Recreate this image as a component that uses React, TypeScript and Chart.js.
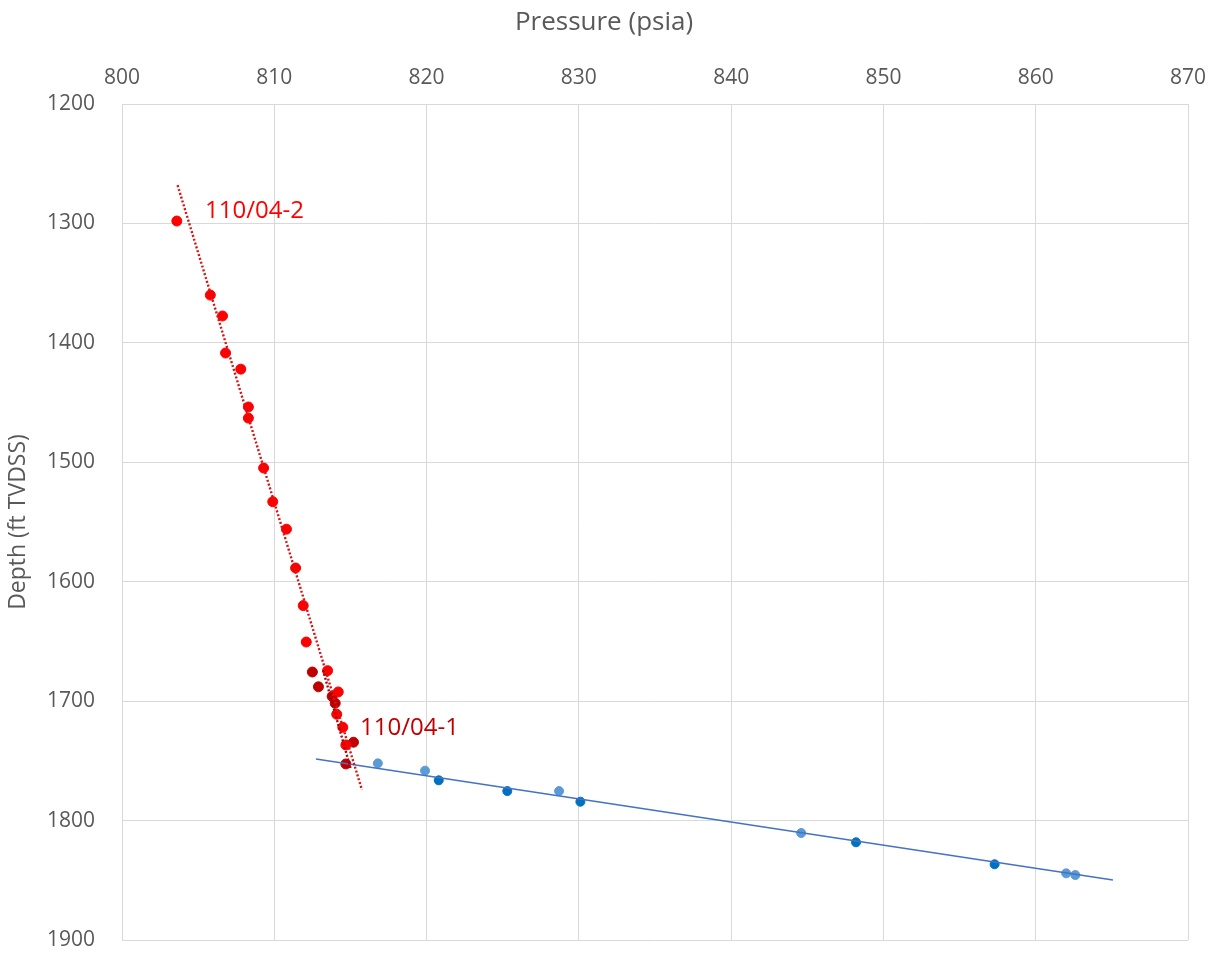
import React, { useEffect, useRef } from "react";
import { Chart, registerables } from "chart.js";

Chart.register(...registerables);

// 110/04-2 pressure points (psia, ft TVDSS)
const well2Pressure = [803.6, 805.8, 806.6, 806.8, 807.8, 808.3, 808.3, 809.3, 809.9, 810.8, 811.4, 811.9, 812.1, 813.5, 814.2, 814.1, 814.5, 814.7];
const well2Depth = [1298, 1360, 1377.5, 1408.5, 1422, 1453.7, 1463, 1504.8, 1533, 1556, 1588.5, 1620, 1650.5, 1674.5, 1692.3, 1711, 1721.9, 1736.7];

// 110/04-1 pressure points
const well1Pressure = [812.5, 812.9, 813.8, 814.0, 815.2, 814.7];
const well1Depth = [1675.6, 1688, 1696, 1701.8, 1734.4, 1752.6];

// Blue (water) points, light series
const lightBluePressure = [816.8, 819.9, 828.7, 844.6, 862.0, 862.6];
const lightBlueDepth = [1752.1, 1758.2, 1775.3, 1810.4, 1844.2, 1845.6];

// Blue (water) points, dark series
const darkBluePressure = [820.8, 825.3, 830.1, 848.2, 857.3];
const darkBlueDepth = [1766.3, 1775.3, 1784.2, 1818.2, 1836.6];

// Trend lines (end points)
const trend2Pressure = [803.65, 815.76];
const trend2Depth = [1268, 1774.4];
const trend1Pressure = [813.2, 815.0];
const trend1Depth = [1674, 1756];
const waterTrendPressure = [812.74, 865.07];
const waterTrendDepth = [1748.4, 1849.8];

// Annotation labels
const labelTexts = ["110/04-2", "110/04-1"];
const labelPressure = [805.45, 815.63];
const labelDepth = [1289.6, 1722.5];
const labelColors = ["#FF0000", "#C00000"];

const xTitle = "Pressure (psia)";
const yTitle = "Depth (ft TVDSS)";
const xTicks = [800, 810, 820, 830, 840, 850, 860, 870];
const yTicks = [1200, 1300, 1400, 1500, 1600, 1700, 1800, 1900];

const zip = (xs: number[], ys: number[]) => xs.map((x, i) => ({ x, y: ys[i] }));

const GRID = "#D9D9D9";
const TEXT = "#595959";

export default function App() {
  const ref = useRef<HTMLCanvasElement | null>(null);

  useEffect(() => {
    document.body.style.margin = "0";
    const canvas = ref.current;
    if (!canvas) return;

    const labelPlugin = {
      id: "labels",
      afterDatasetsDraw(chart: any) {
        const { ctx, scales } = chart;
        ctx.save();
        ctx.font = '24px "Open Sans", sans-serif';
        ctx.textAlign = "left";
        ctx.textBaseline = "middle";
        labelTexts.forEach((t, i) => {
          ctx.fillStyle = labelColors[i];
          ctx.fillText(t, scales.x.getPixelForValue(labelPressure[i]), scales.y.getPixelForValue(labelDepth[i]));
        });
        // x-axis title (offset left of center as in the original)
        ctx.fillStyle = TEXT;
        ctx.font = '26px "Open Sans", sans-serif';
        ctx.textAlign = "center";
        ctx.fillText(xTitle, 604, 23);
        ctx.restore();
      },
    };

    const chart = new Chart(canvas, {
      type: "scatter",
      data: {
        datasets: [
          {
            label: "110/04-2 trend",
            data: zip(trend2Pressure, trend2Depth),
            showLine: true,
            borderColor: "#D41515",
            borderWidth: 2.4,
            borderDash: [2, 2],
            pointRadius: 0,
            order: 1,
          },
          {
            label: "110/04-1 trend",
            data: zip(trend1Pressure, trend1Depth),
            showLine: true,
            borderColor: "#B00000",
            borderWidth: 2.4,
            borderDash: [2, 2],
            pointRadius: 0,
            order: 1,
          },
          {
            label: "Water trend",
            data: zip(waterTrendPressure, waterTrendDepth),
            showLine: true,
            borderColor: "#4472C4",
            borderWidth: 1.5,
            pointRadius: 0,
            order: 1,
          },
          {
            label: "110/04-2",
            data: zip(well2Pressure, well2Depth),
            backgroundColor: "#FF0000",
            borderColor: "#FF0000",
            pointRadius: 5,
            order: 2,
          },
          {
            label: "110/04-1",
            data: zip(well1Pressure, well1Depth),
            backgroundColor: "#C00000",
            borderColor: "#C00000",
            pointRadius: 5,
            order: 2,
          },
          {
            label: "Water light",
            data: zip(lightBluePressure, lightBlueDepth),
            backgroundColor: "#5B9BD5",
            borderColor: "#5B9BD5",
            pointRadius: 4.5,
            order: 2,
          },
          {
            label: "Water dark",
            data: zip(darkBluePressure, darkBlueDepth),
            backgroundColor: "#0070C0",
            borderColor: "#0070C0",
            pointRadius: 4.5,
            order: 2,
          },
        ],
      },
      options: {
        responsive: false,
        animation: false,
        layout: { padding: { left: 0, right: 33, top: 0, bottom: 14 } },
        plugins: {
          legend: { display: false },
          tooltip: { enabled: false },
        },
        scales: {
          x: {
            type: "linear",
            position: "top",
            min: 800,
            max: 870,
            afterBuildTicks: (scale: any) => {
              scale.ticks = xTicks.map((v) => ({ value: v }));
            },
            afterFit: (scale: any) => {
              scale.height = 104;
              scale.paddingLeft = 0;
              scale.paddingRight = 0;
            },
            grid: { color: GRID, lineWidth: 1, drawTicks: false },
            border: { display: true, color: GRID },
            ticks: {
              color: TEXT,
              font: { family: '"Open Sans", sans-serif', size: 21 },
              padding: 13,
              maxRotation: 0,
              callback: (v: any) => String(v),
            },
            title: { display: false },
          },
          y: {
            type: "linear",
            reverse: true,
            min: 1200,
            max: 1900,
            afterBuildTicks: (scale: any) => {
              scale.ticks = yTicks.map((v) => ({ value: v }));
            },
            afterFit: (scale: any) => {
              scale.width = 122;
              scale.paddingTop = 0;
              scale.paddingBottom = 0;
            },
            grid: { color: GRID, lineWidth: 1, drawTicks: false },
            border: { display: true, color: GRID },
            ticks: {
              color: TEXT,
              font: { family: '"Open Sans", sans-serif', size: 21 },
              padding: 27,
              callback: (v: any) => String(v),
            },
            title: {
              display: true,
              text: yTitle,
              color: TEXT,
              font: { family: '"Open Sans", sans-serif', size: 23 },
              padding: { top: 5, bottom: 0 },
            },
          },
        },
      },
      plugins: [labelPlugin],
    });

    return () => chart.destroy();
  }, []);

  return (
    <div style={{ position: "fixed", left: 0, top: 0, width: 1221, height: 954, background: "#fff" }}>
      <canvas ref={ref} width={1221} height={954} />
    </div>
  );
}
